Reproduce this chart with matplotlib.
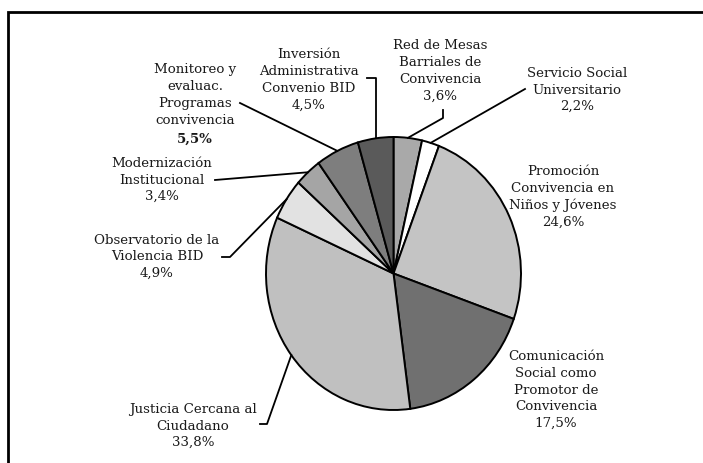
import numpy as np
import matplotlib
matplotlib.use("Agg")
import matplotlib.pyplot as plt

# Distribución de la inversión (%), en orden horario desde las 12
labels = ["Red de Mesas\nBarriales de\nConvivencia",
          "Servicio Social\nUniversitario",
          "Promoción\nConvivencia en\nNiños y Jóvenes",
          "Comunicación\nSocial como\nPromotor de\nConvivencia",
          "Justicia Cercana al\nCiudadano",
          "Observatorio de la\nViolencia BID",
          "Modernización\nInstitucional",
          "Monitoreo y\nevaluac.\nProgramas\nconvivencia",
          "Inversión\nAdministrativa\nConvenio BID"]
values = [3.6, 2.2, 24.6, 17.5, 33.8, 4.9, 3.4, 5.5, 4.5]
colors = ["#a9a9a9", "#ffffff", "#c4c4c4", "#707070", "#c0c0c0",
          "#e2e2e2", "#a5a5a5", "#7e7e7e", "#5a5a5a"]

W, H = 703, 463
# ellipse box of the pie, in pixels
px0, px1, py0, py1 = 266, 521, 137, 410
cx, cy = (px0 + px1) / 2, (py0 + py1) / 2
rx, ry = (px1 - px0) / 2, (py1 - py0) / 2

# label block centres (pixels) and leader start points
label_pos = [(440, 71), (577, 90), (563, 197), (556, 390), (193, 426),
             (157, 257), (162, 180), (195, 95), (309, 80)]
leader_start = [[(443, 110), (443, 118)],
                [(525, 89)],
                None,
                None,
                [(260, 424), (267, 424)],
                [(222, 257), (230, 257)],
                [(215, 180)],
                [(240, 103)],
                [(367, 78), "vert"]]

fig = plt.figure(figsize=(W / 100, H / 100), dpi=100)
fig.patch.set_facecolor("white")

# pie axes stretched to the ellipse
ax = fig.add_axes([px0 / W, 1 - py1 / H, (px1 - px0) / W, (py1 - py0) / H])
wedges, _ = ax.pie(values, colors=colors, startangle=90, counterclock=False,
                   radius=1, normalize=True,
                   wedgeprops=dict(edgecolor="black", linewidth=1.4))
ax.set_xlim(-1, 1)
ax.set_ylim(-1, 1)
ax.set_aspect("auto")
ax.axis("off")

# overlay in pixel coordinates for text, leaders and frame
ov = fig.add_axes([0, 0, 1, 1], facecolor="none")
ov.set_xlim(0, W)
ov.set_ylim(H, 0)
ov.axis("off")

ov.plot([8, 8, W], [H, 12, 12], color="black", lw=2, solid_joinstyle="miter")

font = dict(family="DejaVu Serif", fontsize=9.6, color="#1a1a1a")
ls = 1.37
for i, (lab, v) in enumerate(zip(labels, values)):
    x, y = label_pos[i]
    pct = f"{v:.1f}".replace(".", ",") + "%"
    if i == 7:
        ov.text(x, y, lab, ha="center", va="center", linespacing=ls, **font)
        ov.text(x, y + 44, pct, ha="center", va="center", fontweight="bold", **font)
    else:
        ov.text(x, y, lab + "\n" + pct, ha="center", va="center",
                linespacing=ls, **font)

    pts = leader_start[i]
    if pts is None:
        continue
    w = wedges[i]
    mid = np.deg2rad((w.theta1 + w.theta2) / 2)
    ex = cx + rx * np.cos(mid)
    ey = cy - ry * np.sin(mid)
    path = []
    for p in pts:
        if p == "vert":
            path.append((ex, path[-1][1]))
        else:
            path.append(p)
    path.append((ex, ey))
    xs, ys = zip(*path)
    ov.plot(xs, ys, color="black", lw=1.3)

fig.savefig("out.png", dpi=100)
